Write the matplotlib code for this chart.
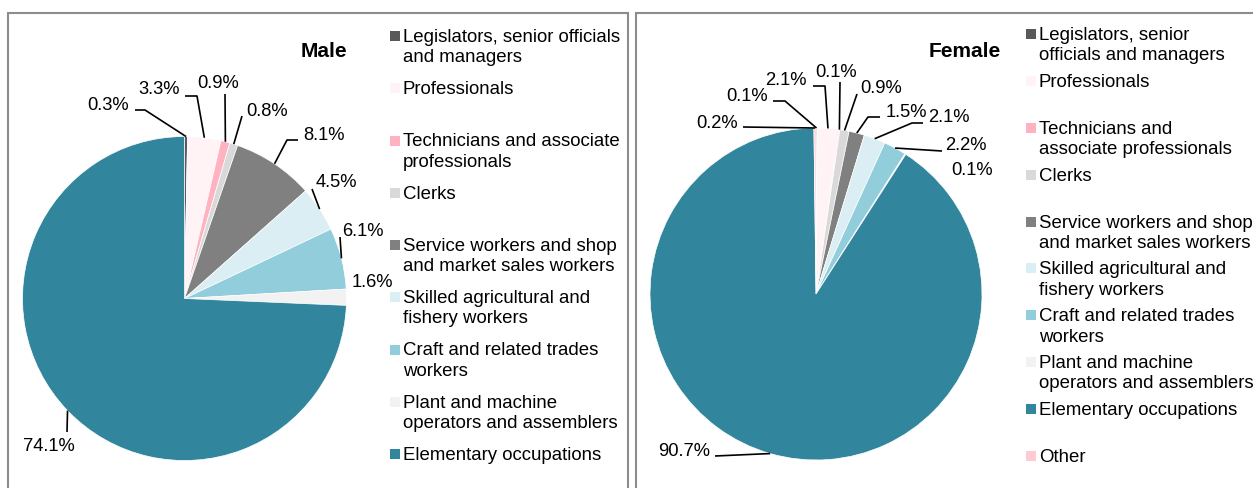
import numpy as np
import matplotlib
matplotlib.use('Agg')
import matplotlib.pyplot as plt
from matplotlib.patches import Rectangle

plt.rcParams['font.family'] = ['Liberation Sans', 'DejaVu Sans']

# occupation shares (%) by sex, in ISCO order
male_labels = [
    'Legislators, senior officials\nand managers',
    'Professionals',
    'Technicians and associate\nprofessionals',
    'Clerks',
    'Service workers and shop\nand market sales workers',
    'Skilled agricultural and\nfishery workers',
    'Craft and related trades\nworkers',
    'Plant and machine\noperators and assemblers',
    'Elementary occupations',
]
male_values = [0.3, 3.3, 0.9, 0.8, 8.1, 4.5, 6.1, 1.6, 74.1]

female_labels = [
    'Legislators, senior\nofficials and managers',
    'Professionals',
    'Technicians and\nassociate professionals',
    'Clerks',
    'Service workers and shop\nand market sales workers',
    'Skilled agricultural and\nfishery workers',
    'Craft and related trades\nworkers',
    'Plant and machine\noperators and assemblers',
    'Elementary occupations',
    'Other',
]
female_values = [0.1, 2.1, 0.1, 0.9, 1.5, 2.1, 2.2, 0.1, 90.7, 0.2]

colors = ['#595959', '#FFF3F5', '#FFB3C1', '#D9D9D9', '#808080',
          '#DAEEF3', '#92CDDC', '#F2F2F2', '#31859C', '#FFCAD4']

W, H = 1253, 489
fig = plt.figure(figsize=(W / 100, H / 100), dpi=100)
ax = fig.add_axes([0, 0, 1, 1])


def px(x, y):
    # pixel position (y measured from the top) -> axes data
    return x, H - y


# label placement per slice: text centre and the leader's bend points
male_label_pos = [
    ((108, 106), [(135, 111), (145, 111)]),
    ((159, 90), [(185, 97), (197, 97)]),
    ((218, 84), [(225, 95)]),
    ((267, 112), [(242, 117)]),
    ((324, 136), [(298, 141), (287, 141)]),
    ((336, 183), [(312, 190)]),
    ((363, 232), [(340, 238)]),
    ((372, 283), []),
    ((49, 447), [(67, 433)]),
]
female_label_pos = [
    ((747, 97), [(773, 102), (785, 102)]),
    ((786, 81), [(813, 87), (825, 87)]),
    ((836, 73), [(840, 83)]),
    ((881, 89), [(857, 95)]),
    ((906, 113), [(880, 118), (868, 118)]),
    ((949, 118), [(923, 124), (912, 124)]),
    ((966, 146), [(942, 152)]),
    ((972, 171), []),
    ((684, 452), [(715, 457)]),
    ((717, 124), [(743, 128)]),
]


def draw_pie(values, centre, radius, label_pos):
    c = px(*centre)
    wedges, _ = ax.pie(values, colors=colors[:len(values)], startangle=90,
                       counterclock=False, center=c, radius=radius,
                       wedgeprops=dict(edgecolor='white', linewidth=0.5))
    for w, v, (tpos, bends) in zip(wedges, values, label_pos):
        ang = np.deg2rad((w.theta1 + w.theta2) / 2)
        anchor = (c[0] + radius * np.cos(ang), c[1] + radius * np.sin(ang))
        if bends:
            pts = [px(*b) for b in bends] + [anchor]
            ax.plot([p[0] for p in pts], [p[1] for p in pts],
                    color='black', lw=1.2, solid_capstyle='butt')
        ax.text(*px(*tpos), f'{v:.1f}%', fontsize=13.2,
                ha='center', va='center')


def draw_legend(labels, x, y_first, y_last):
    ys = np.linspace(y_first, y_last, len(labels))
    for lab, col, y in zip(labels, colors, ys):
        mx, my = px(x, y)
        ax.add_patch(Rectangle((mx, my - 5), 10, 10, facecolor=col,
                               edgecolor='none'))
        ax.text(mx + 13, my + 8, lab, fontsize=13.4, ha='left', va='top',
                linespacing=1.25)


draw_pie(male_values, (184.5, 299.5), 162, male_label_pos)
draw_pie(female_values, (816, 295), 166, female_label_pos)

draw_legend(male_labels, 390, 37, 455)
draw_legend(female_labels, 1026, 35, 457)

ax.text(*px(324, 52), 'Male', fontsize=15, fontweight='bold',
        ha='center', va='center')
ax.text(*px(965, 52), 'Female', fontsize=15, fontweight='bold',
        ha='center', va='center')

# chart area borders
ax.add_patch(Rectangle((8, -10), 620, H - 14 + 10, fill=False,
                       edgecolor='#8c8c8c', lw=1.5, clip_on=False))
ax.add_patch(Rectangle((636, -10), 700, H - 14 + 10, fill=False,
                       edgecolor='#8c8c8c', lw=1.5, clip_on=False))

ax.set_xlim(0, W)
ax.set_ylim(0, H)
ax.set_aspect('auto')
ax.axis('off')

fig.savefig('out.png', dpi=100, facecolor='white')
